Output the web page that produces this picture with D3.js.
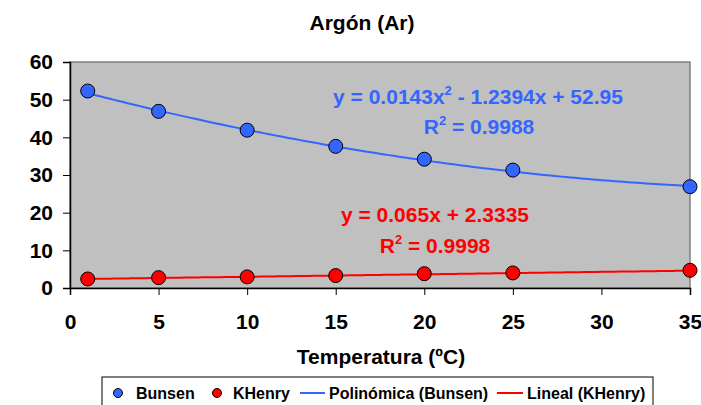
<!DOCTYPE html>
<html><head><meta charset="utf-8">
<script src="https://cdn.jsdelivr.net/npm/d3@7"></script>
<style>
html,body{margin:0;padding:0;background:#fff;}
svg{display:block;font-family:"Liberation Sans",Arial,sans-serif;font-weight:bold;}
</style></head>
<body>
<svg id="c" width="701" height="405"></svg>
<script>
const title = "Argón (Ar)";
const xTitle = "Temperatura (ºC)";
const bunsenX = [1, 5, 10, 15, 20, 25, 35];
const bunsenY = [52.3, 46.9, 41.9, 37.6, 34.2, 31.3, 26.9];
const khenryX = [1, 5, 10, 15, 20, 25, 35];
const khenryY = [2.4, 2.75, 2.95, 3.3, 3.8, 4.0, 4.7];
const polyCoef = [52.95, -1.2394, 0.0143]; // c0 + c1 x + c2 x^2
const linCoef = [2.3335, 0.065];
const xTicks = [0, 5, 10, 15, 20, 25, 30, 35];
const yTicks = [0, 10, 20, 30, 40, 50, 60];
const legendLabels = ["Bunsen", "KHenry", "Polinómica (Bunsen)", "Lineal (KHenry)"];

const blue = "#3366FF", red = "#FF0000";
const svg = d3.select("#c");
const L = 70, R = 690, T = 62, B = 288;
const x = d3.scaleLinear().domain([0, 35]).range([L, R]);
const y = d3.scaleLinear().domain([0, 60]).range([B, T]);

svg.append("rect").attr("x", L).attr("y", T).attr("width", R - L).attr("height", B - T)
  .attr("fill", "#C0C0C0").attr("stroke", "#808080").attr("stroke-width", 1.5);

// axes
const ya = svg.append("g").attr("transform", `translate(${L},0)`)
  .call(d3.axisLeft(y).tickValues(yTicks).tickSize(7).tickPadding(10).tickFormat(d3.format("d")));
const xa = svg.append("g").attr("transform", `translate(0,${B})`)
  .call(d3.axisBottom(x).tickValues(xTicks).tickSize(7).tickPadding(19).tickFormat(d3.format("d")));
[ya, xa].forEach(g => {
  g.selectAll("path").attr("stroke", "#000").attr("stroke-width", 1.5);
  g.selectAll("line").attr("stroke", "#000").attr("stroke-width", 1);
  g.selectAll("text").attr("font-size", 21).attr("font-weight", "bold").attr("fill", "#000")
    .attr("font-family", "Liberation Sans, Arial, sans-serif");
});
xa.selectAll(".tick:first-child text").attr("text-anchor", "middle");

// trendlines
const xs = d3.range(1, 35.01, 0.25);
const polyF = v => polyCoef[0] + polyCoef[1] * v + polyCoef[2] * v * v;
const linF = v => linCoef[0] + linCoef[1] * v;
const line = d3.line().x(d => x(d[0])).y(d => y(d[1]));
svg.append("path").attr("d", line(xs.map(v => [v, polyF(v)]))).attr("fill", "none").attr("stroke", blue).attr("stroke-width", 2);
svg.append("path").attr("d", line(xs.map(v => [v, linF(v)]))).attr("fill", "none").attr("stroke", red).attr("stroke-width", 2);

// points
svg.append("g").selectAll("circle").data(bunsenX.map((v, i) => [v, bunsenY[i]])).join("circle")
  .attr("cx", d => x(d[0])).attr("cy", d => y(d[1])).attr("r", 7)
  .attr("fill", blue).attr("stroke", "#000").attr("stroke-width", 1);
svg.append("g").selectAll("circle").data(khenryX.map((v, i) => [v, khenryY[i]])).join("circle")
  .attr("cx", d => x(d[0])).attr("cy", d => y(d[1])).attr("r", 7)
  .attr("fill", red).attr("stroke", "#000").attr("stroke-width", 1);

// equation labels
function eq(cx, cy, color, parts) {
  const t = svg.append("text").attr("x", cx).attr("y", cy).attr("text-anchor", "middle")
    .attr("fill", color).attr("font-size", 21).attr("font-weight", "bold");
  parts.forEach(p => {
    const s = t.append("tspan").text(p[0]);
    if (p[1]) s.attr("font-size", 13).attr("dy", -9);
    if (p[2]) s.attr("dy", 9);
  });
}
eq(478, 104, blue, [["y = 0.0143x"], ["2", true], [" - 1.2394x + 52.95", false, true]]);
eq(479, 134, blue, [["R"], ["2", true], [" = 0.9988", false, true]]);
eq(435, 222, red, [["y = 0.065x + 2.3335"]]);
eq(435, 253, red, [["R"], ["2", true], [" = 0.9998", false, true]]);

// titles
svg.append("text").attr("x", 362).attr("y", 30).attr("text-anchor", "middle").attr("font-size", 21).text(title);
svg.append("text").attr("x", 381).attr("y", 364).attr("text-anchor", "middle").attr("font-size", 21).text(xTitle);

// legend
const lg = svg.append("g");
lg.append("rect").attr("x", 102).attr("y", 377).attr("width", 551).attr("height", 40)
  .attr("fill", "#fff").attr("stroke", "#000").attr("stroke-width", 1);
const ly = 394;
const lfs = 16;
lg.append("circle").attr("cx", 118).attr("cy", ly - 1).attr("r", 4.5).attr("fill", blue).attr("stroke", "#000");
lg.append("text").attr("x", 136).attr("y", ly + 5).attr("font-size", lfs).text(legendLabels[0]);
lg.append("circle").attr("cx", 217).attr("cy", ly - 1).attr("r", 4.5).attr("fill", red).attr("stroke", "#000");
lg.append("text").attr("x", 233).attr("y", ly + 5).attr("font-size", lfs).text(legendLabels[1]);
lg.append("line").attr("x1", 300).attr("x2", 325).attr("y1", ly - 1).attr("y2", ly - 1).attr("stroke", blue).attr("stroke-width", 2);
lg.append("text").attr("x", 329).attr("y", ly + 5).attr("font-size", lfs).text(legendLabels[2]);
lg.append("line").attr("x1", 497).attr("x2", 523).attr("y1", ly - 1).attr("y2", ly - 1).attr("stroke", red).attr("stroke-width", 2);
lg.append("text").attr("x", 527).attr("y", ly + 5).attr("font-size", lfs).text(legendLabels[3]);
</script>
</body></html>
